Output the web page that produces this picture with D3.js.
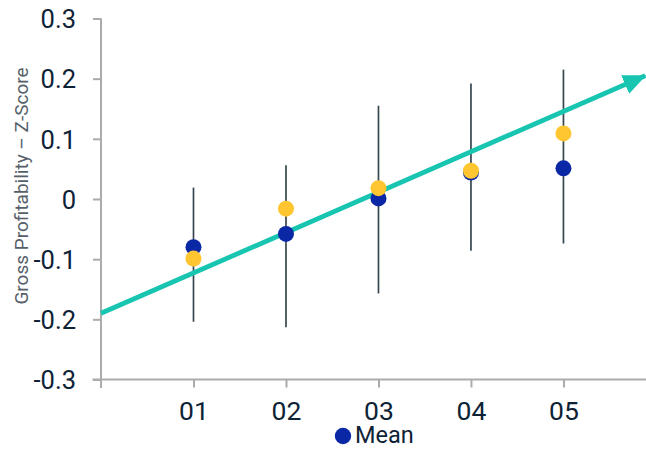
<!DOCTYPE html>
<html>
<head>
<meta charset="utf-8">
<script src="https://cdn.jsdelivr.net/npm/d3@7"></script>
<style>
  html, body { margin: 0; padding: 0; background: #fff; }
  svg { display: block; font-family: Roboto, "Noto Sans", sans-serif; }
</style>
</head>
<body>
<svg id="chart" width="646" height="449"></svg>
<script>
// Quintile categories and their values
const quintiles = [1, 2, 3, 4, 5];
const quintileLabels = ["01", "02", "03", "04", "05"];
const meanValues = [-0.080, -0.058, 0.001, 0.044, 0.051];
const medianValues = [-0.099, -0.016, 0.018, 0.047, 0.109];
const rangeHigh = [0.019, 0.056, 0.155, 0.192, 0.215];
const rangeLow = [-0.204, -0.213, -0.157, -0.086, -0.074];
// Trend arrow endpoints (x in quintile units, y in z-score)
const trendX = [0, 5.885];
const trendY = [-0.19, 0.205];
const yTicks = [-0.3, -0.2, -0.1, 0, 0.1, 0.2, 0.3];
const yTickLabels = ["-0.3", "-0.2", "-0.1", "0", "0.1", "0.2", "0.3"];

const navy = "#0a27a6";
const gold = "#ffc631";
const teal = "#17c5b0";
const axisGray = "#ababab";
const textDark = "#0e2235";

const svg = d3.select("#chart");

const x = d3.scaleLinear().domain([0, 5.9]).range([101, 646.7]);
const y = d3.scaleLinear().domain([-0.3, 0.3]).range([379.5, 18.5]);

// Y axis
const yAxis = svg.append("g").attr("transform", `translate(${x(0)},0)`)
  .call(d3.axisLeft(y).tickValues(yTicks).tickSize(8).tickPadding(17)
    .tickFormat((d, i) => yTickLabels[i]));
yAxis.select(".domain").remove();
yAxis.selectAll(".tick line").attr("stroke", axisGray).attr("stroke-width", 2);
yAxis.selectAll(".tick text").attr("fill", textDark).attr("font-size", 25.5)
  .attr("font-family", "Roboto").attr("dy", "0.36em");
yAxis.append("line").attr("x1", 0).attr("x2", 0)
  .attr("y1", y(0.3)).attr("y2", y(-0.3) + 8.5)
  .attr("stroke", axisGray).attr("stroke-width", 2);

// X axis
const xAxis = svg.append("g").attr("transform", `translate(0,${y(-0.3)})`)
  .call(d3.axisBottom(x).tickValues(quintiles).tickSize(8).tickPadding(14)
    .tickFormat((d, i) => quintileLabels[i]));
xAxis.select(".domain").remove();
xAxis.selectAll(".tick line").attr("stroke", axisGray).attr("stroke-width", 2);
xAxis.selectAll(".tick text").attr("fill", textDark).attr("font-size", 26.5)
  .attr("font-family", "Roboto");
xAxis.append("line").attr("x1", x(0) - 8.5).attr("x2", 646)
  .attr("y1", 0).attr("y2", 0)
  .attr("stroke", axisGray).attr("stroke-width", 2);

// Axis title
svg.append("text")
  .attr("transform", `translate(28,${(y(0.3) + y(-0.3)) / 2 - 13}) rotate(-90)`)
  .attr("text-anchor", "middle")
  .attr("fill", "#56606a")
  .attr("font-size", 19)
  .text("Gross Profitability – Z-Score");

// Range whiskers
svg.append("g").selectAll("line").data(quintiles).join("line")
  .attr("x1", d => x(d)).attr("x2", d => x(d))
  .attr("y1", (d, i) => y(rangeHigh[i]))
  .attr("y2", (d, i) => y(rangeLow[i]))
  .attr("stroke", "#37474f").attr("stroke-width", 1.7);

// Trend arrow
const defs = svg.append("defs");
defs.append("marker")
  .attr("id", "arrowHead")
  .attr("markerUnits", "userSpaceOnUse")
  .attr("viewBox", "0 -11 24 22")
  .attr("refX", 22).attr("refY", 0)
  .attr("markerWidth", 24).attr("markerHeight", 22)
  .attr("orient", "auto")
  .append("path").attr("d", "M0,-10L23,0L0,10Z").attr("fill", teal);

svg.append("line")
  .attr("x1", x(trendX[0])).attr("y1", y(trendY[0]))
  .attr("x2", x(trendX[1])).attr("y2", y(trendY[1]))
  .attr("stroke", teal).attr("stroke-width", 4.8)
  .attr("marker-end", "url(#arrowHead)");

// Mean points
svg.append("g").selectAll("circle").data(quintiles).join("circle")
  .attr("cx", d => x(d)).attr("cy", (d, i) => y(meanValues[i]))
  .attr("r", 8).attr("fill", navy);

// Median points
svg.append("g").selectAll("circle").data(quintiles).join("circle")
  .attr("cx", d => x(d)).attr("cy", (d, i) => y(medianValues[i]))
  .attr("r", 8).attr("fill", gold);

// Legend
const legend = svg.append("g").attr("transform", "translate(343,436)");
legend.append("circle").attr("r", 8.2).attr("fill", navy);
legend.append("text").attr("x", 12).attr("y", 6.5)
  .attr("fill", textDark).attr("font-size", 23.5).text("Mean");
</script>
</body>
</html>
